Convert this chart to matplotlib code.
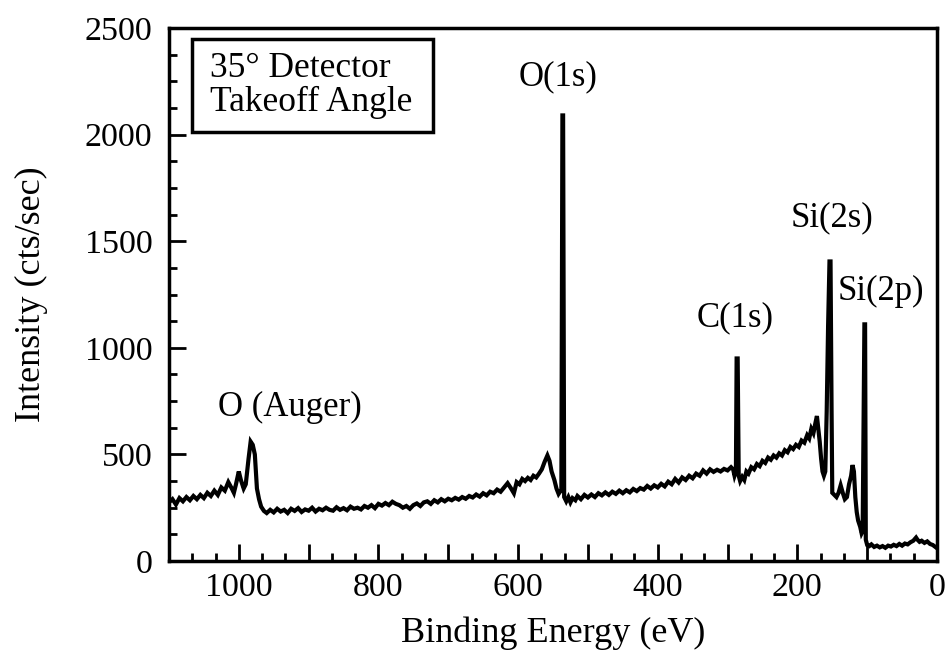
import matplotlib
matplotlib.use("Agg")
import matplotlib.pyplot as plt
from matplotlib.ticker import MultipleLocator, FuncFormatter
from matplotlib.patches import Rectangle

plt.rcParams['font.family'] = ['Liberation Serif', 'DejaVu Serif']

# Binding energy (eV) and intensity (cts/sec)
energy = [1100, 1095, 1090, 1085, 1080, 1075, 1070, 1065, 1060, 1055, 1050, 1045,
          1040, 1035, 1030, 1025, 1020, 1015, 1010, 1007, 1004, 1000, 997, 993,
          990, 986, 983, 980, 977, 974, 971, 968, 964, 960,
          955, 950, 945, 940, 935, 930, 925, 920, 915, 910, 905, 900, 895, 890,
          885, 880, 875, 870, 865, 860, 855, 850, 845, 840, 835, 830, 825, 820,
          815, 810, 805, 800, 795, 790, 785, 780, 775, 770, 765, 760, 755, 750,
          745, 740, 735, 730, 725, 720, 715, 710, 705, 700, 695, 690, 685, 680,
          675, 670, 665, 660, 655, 650, 645, 640, 635, 630, 625, 620, 615, 610,
          606, 602, 598, 594, 590, 586, 582, 578, 574, 570, 566, 562, 558, 555,
          552, 548, 545, 542, 540, 538, 536.5, 535.5, 534,
          531, 528, 525, 522, 518, 515, 510, 505, 500, 495, 490, 485, 480, 475,
          470, 465, 460, 455, 450, 445, 440, 435, 430, 425, 420, 415, 410, 405,
          400, 395, 390, 385, 380, 375, 370, 365, 360, 355, 350, 345, 340, 335,
          330, 325, 320, 315, 310, 305, 300, 295, 292, 290, 288, 287, 285.5, 284,
          282, 279, 276, 273, 270, 266, 262, 258, 254, 250, 246, 242, 238, 234,
          230, 226, 222, 218, 214, 210, 206, 202, 198, 194, 190, 186, 183, 180,
          177, 174, 172, 170, 168, 166, 164, 162, 160, 158, 156, 154, 152.5, 151,
          150, 147, 144, 141, 138, 135, 132, 129, 126, 123, 121, 119, 117, 115,
          113, 110, 108, 106.5, 105, 104, 103, 102, 100, 97, 94, 90, 86, 82, 78,
          74, 70, 66, 62, 58, 54, 50, 46, 42, 38, 34, 30, 28, 25, 22, 18, 14, 10,
          6, 2, 0]
intensity = [275, 290, 265, 295, 280, 300, 285, 305, 290, 310, 295, 320,
             305, 330, 310, 345, 330, 370, 340, 320, 360, 420, 380, 340,
             360, 480, 560, 545, 500, 340, 290, 255, 235, 225,
             240, 228, 245, 232, 240, 225, 245, 235, 248, 230, 242, 236, 250, 232,
             245, 238, 250, 240, 236, 252, 240, 248, 238, 255, 245, 250, 242, 258,
             250, 262, 248, 268, 260, 272, 262, 278, 268, 262, 250, 258, 245, 262,
             270, 258, 275, 280, 268, 285, 275, 290, 280, 292, 285, 296, 288, 300,
             292, 305, 298, 312, 302, 318, 308, 325, 318, 335, 325, 345, 365, 340,
             318, 370, 360, 385, 375, 390, 380, 400, 392, 410, 430, 465, 495, 470,
             420, 380, 340, 315, 325, 330, 2090, 2090, 300,
             280, 300, 275, 295, 285, 305, 290, 310, 298, 312, 300, 318, 308, 322,
             310, 325, 315, 330, 318, 332, 322, 338, 328, 342, 335, 352, 340, 355,
             345, 362, 350, 372, 360, 385, 368, 392, 380, 400, 388, 410, 400, 425,
             410, 430, 418, 428, 420, 432, 425, 440, 430, 400, 420, 950, 950, 400,
             375, 395, 380, 420, 410, 440, 430, 455, 445, 470, 460, 485, 475, 495,
             485, 505, 495, 520, 510, 535, 525, 545, 535, 565, 555, 590, 575, 620,
             600, 650, 680, 620, 560, 480, 420, 400, 420, 700, 1100, 1405, 1405, 700,
             320, 310, 300, 320, 355, 320, 290, 300, 360, 400, 450, 420, 300, 230,
             190, 160, 130, 140, 700, 1110, 1110, 100, 75, 70, 78, 66, 72, 64, 70,
             62, 72, 68, 76, 70, 80, 72, 82, 78, 88, 95, 110, 100, 90, 95, 85, 92, 80,
             75, 65, 60]

peak_labels = ["O(1s)", "C(1s)", "Si(2s)", "Si(2p)", "O (Auger)"]
label_x = [543, 289, 151, 81, 927]
label_y = [2270, 1140, 1609, 1262, 722]

xticks = [1000, 800, 600, 400, 200, 0]
yticks = [0, 500, 1000, 1500, 2000, 2500]

fig = plt.figure(figsize=(9.46, 6.56), dpi=100)
ax = fig.add_axes([0.1786, 0.1448, 0.8119, 0.8125])

ax.plot(energy, intensity, color='black', lw=3.0, solid_joinstyle='miter')

ax.set_xlim(1100, 0)
ax.set_ylim(0, 2500)

ax.xaxis.set_major_locator(MultipleLocator(100))
ax.xaxis.set_minor_locator(MultipleLocator(100 / 3))
ax.xaxis.set_major_formatter(FuncFormatter(
    lambda v, p: f"{int(round(v))}" if int(round(v)) in xticks else ""))
ax.yaxis.set_major_locator(MultipleLocator(500))
ax.yaxis.set_minor_locator(MultipleLocator(125))

ax.tick_params(which='major', direction='in', length=12, width=2, labelsize=24.5,
               top=False, right=False)
ax.tick_params(axis='x', which='major', pad=8)
ax.tick_params(axis='y', which='major', pad=12)
ax.tick_params(which='minor', direction='in', length=6, width=2,
               top=False, right=False)
for s in ax.spines.values():
    s.set_linewidth(2.5)

ax.set_xlabel("Binding Energy (eV)", fontsize=26)
ax.set_ylabel("Intensity (cts/sec)", fontsize=26)
ax.xaxis.set_label_coords(0.5, -0.105)
ax.yaxis.set_label_coords(-0.158, 0.5)

for t, x, y in zip(peak_labels, label_x, label_y):
    ax.text(x, y, t, fontsize=25, ha='center', va='center')

box = Rectangle((0.030, 0.805), 0.314, 0.174, transform=ax.transAxes,
                fill=False, lw=2.5, edgecolor='black')
ax.add_patch(box)
ax.text(0.053, 0.892, "35° Detector\nTakeoff Angle", transform=ax.transAxes,
        fontsize=25.5, ha='left', va='center', linespacing=1.05)

fig.savefig("out.png", dpi=100)
